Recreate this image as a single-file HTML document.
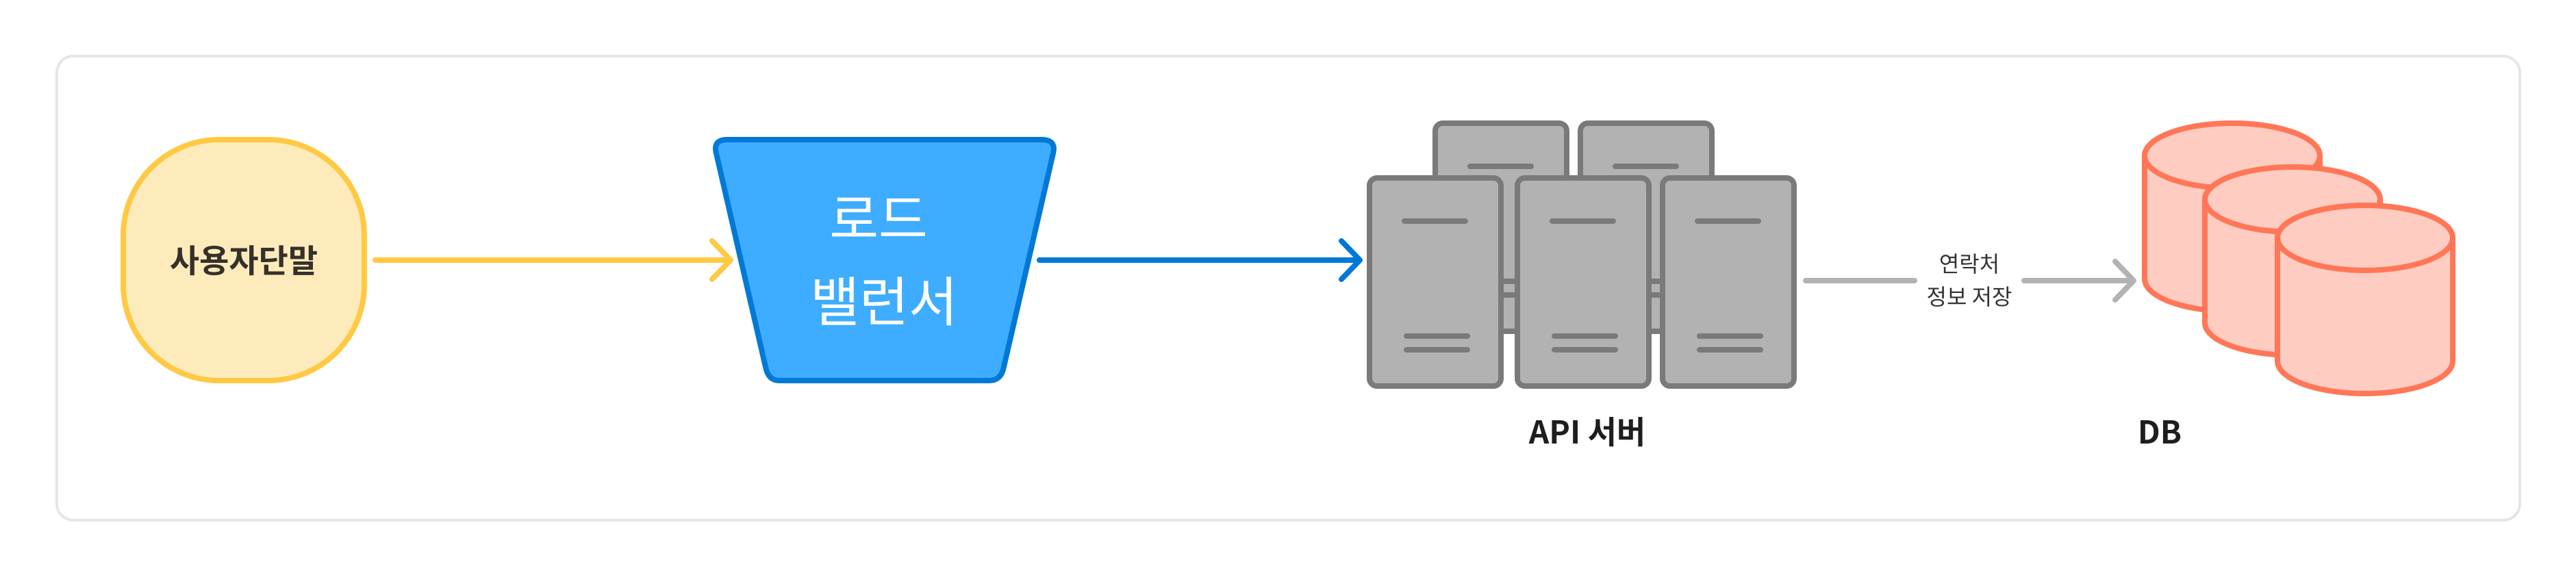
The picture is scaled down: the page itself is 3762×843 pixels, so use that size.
<!DOCTYPE html>
<html><head><meta charset="utf-8"><style>
html,body{margin:0;padding:0;background:#fff;width:3762px;height:843px;overflow:hidden}
svg{display:block}
text{font-family:"Noto Sans CJK KR","Liberation Sans",sans-serif}
</style></head><body>
<svg width="3762" height="843" viewBox="0 0 3762 843" xmlns="http://www.w3.org/2000/svg">
<rect width="3762" height="843" fill="#fff"/>
<rect x="83" y="82" width="3597" height="678" rx="24" fill="#fff" stroke="#e6e6e6" stroke-width="4"/>

<rect x="180" y="204" width="352" height="352" rx="140" fill="#fdebbb" stroke="#ffc944" stroke-width="8"/>
<text x="356" y="398" font-size="47" font-weight="700" fill="#36302a" text-anchor="middle">사용자단말</text>
<g fill="none" stroke="#ffc944" stroke-width="8" stroke-linecap="round" stroke-linejoin="round">
<path d="M548 380H1066"/><path d="M1040 352L1067 380L1040 408"/>
</g>

<path d="M1062 204H1521Q1543 204 1538 224L1466 536Q1462 556 1445 556H1138Q1122 556 1118 536L1046 224Q1041 204 1062 204Z" fill="#3eadff" stroke="#0079d6" stroke-width="8"/>
<text x="1283" y="348" font-size="78" fill="#fff" text-anchor="middle">로드</text>
<text x="1291" y="469" font-size="78" fill="#fff" text-anchor="middle">밸런서</text>
<g fill="none" stroke="#0079d6" stroke-width="8" stroke-linecap="round" stroke-linejoin="round">
<path d="M1518 380H1985"/><path d="M1959 352L1986 380L1959 408"/>
</g>

<g fill="#b2b2b2" stroke="#7a7a7a" stroke-width="8">
<rect x="2096" y="180" width="192" height="304" rx="11"/>
<rect x="2308" y="180" width="192" height="304" rx="11"/>
</g>
<g fill="none" stroke="#7a7a7a" stroke-width="8" stroke-linecap="round">
<path d="M2147 243H2236M2150 411H2239M2150 431H2239"/>
<path d="M2359 243H2448M2362 411H2451M2362 431H2451"/>
</g>
<g fill="#b2b2b2" stroke="#7a7a7a" stroke-width="8">
<rect x="2000" y="260" width="192" height="304" rx="11"/>
<rect x="2216" y="260" width="192" height="304" rx="11"/>
<rect x="2428" y="260" width="192" height="304" rx="11"/>
</g>
<g fill="none" stroke="#7a7a7a" stroke-width="8" stroke-linecap="round">
<path d="M2051 323H2140M2054 491H2143M2054 511H2143"/>
<path d="M2267 323H2356M2270 491H2359M2270 511H2359"/>
<path d="M2479 323H2568M2482 491H2571M2482 511H2571"/>
</g>
<text x="2318" y="648" font-size="46" font-weight="700" fill="#1e1e1e" text-anchor="middle">API 서버</text>

<g fill="none" stroke="#b3b3b3" stroke-width="8" stroke-linecap="round" stroke-linejoin="round">
<path d="M2637 410H2796"/><path d="M2956 410H3115"/><path d="M3089 382L3116 410L3089 438"/>
</g>
<text x="2876" y="397" font-size="32" fill="#333" text-anchor="middle">연락처</text>
<text x="2876" y="445" font-size="32" fill="#333" text-anchor="middle">정보 저장</text>

<g fill="#ffccc1" stroke="#ff7757" stroke-width="8">
<path d="M3132 227.500V407.500A128 47.500 0 0 0 3388 407.500V227.500A128 47.500 0 0 0 3132 227.500Z"/>
<ellipse cx="3260" cy="227.500" rx="128" ry="47.500"/>
<path d="M3220 291.500V471.500A128 47.500 0 0 0 3476 471.500V291.500A128 47.500 0 0 0 3220 291.500Z"/>
<ellipse cx="3348" cy="291.500" rx="128" ry="47.500"/>
<path d="M3326 347.500V527.500A128 47.500 0 0 0 3582 527.500V347.500A128 47.500 0 0 0 3326 347.500Z"/>
<ellipse cx="3454" cy="347.500" rx="128" ry="47.500"/>
</g>
<text x="3154" y="648" font-size="46" font-weight="700" fill="#1e1e1e" text-anchor="middle">DB</text>
</svg>
</body></html>
